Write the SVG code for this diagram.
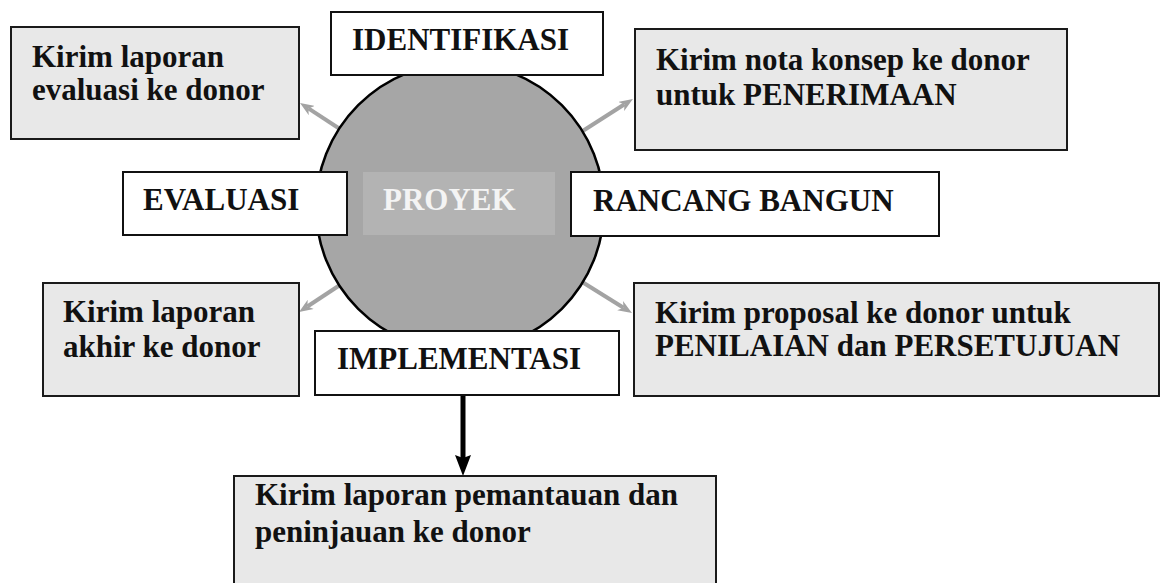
<svg xmlns="http://www.w3.org/2000/svg" width="1162" height="583" viewBox="0 0 1162 583">
  <style>
    .lbl { font-family: "Liberation Serif", "Times New Roman", serif; font-weight: bold; font-size: 31px; fill: #111; }
    .note { fill: #e8e8e8; stroke: #1a1a1a; stroke-width: 2; }
    .phase { fill: #ffffff; stroke: #111; stroke-width: 2; }
    .garrow { stroke: #a3a3a3; stroke-width: 4; fill: none; marker-end: url(#gh); }
    .barrow { stroke: #000; stroke-width: 5; fill: none; marker-end: url(#bh); }
  </style>
  <defs>
    <marker id="gh" markerUnits="userSpaceOnUse" viewBox="0 0 14 11" markerWidth="14" markerHeight="11" refX="4" refY="5.5" orient="auto">
      <path d="M0,0 L14,5.5 L0,11 L4,5.5 z" fill="#a3a3a3"/>
    </marker>
    <marker id="bh" markerUnits="userSpaceOnUse" viewBox="0 0 21 16" markerWidth="21" markerHeight="16" refX="3" refY="8" orient="auto">
      <path d="M0,0 L21,8 L0,16 L3,8 z" fill="#000"/>
    </marker>
  </defs>

  <g id="connectors">
    <line class="garrow" x1="343" y1="131" x2="308.4" y2="108.4"/>
    <line class="garrow" x1="578" y1="134" x2="624.5" y2="104.3"/>
    <line class="garrow" x1="343" y1="283" x2="307.4" y2="306.5"/>
    <line class="garrow" x1="579" y1="280" x2="623.5" y2="307.8"/>
    <line class="barrow" x1="463" y1="395" x2="463" y2="458"/>
  </g>

  <g id="project">
    <circle cx="460" cy="207" r="144" fill="#a6a6a6" stroke="#000" stroke-width="2.5"/>
    <rect x="363" y="172" width="192" height="63" fill="#b3b3b3"/>
    <text class="lbl" x="383" y="210" style="fill:#f4f4f4">PROYEK</text>
  </g>

  <g id="identifikasi">
    <rect class="phase" x="331" y="12" width="272" height="63"/>
    <text class="lbl" x="352" y="50">IDENTIFIKASI</text>
  </g>

  <g id="evaluasi">
    <rect class="phase" x="123" y="172" width="224" height="63"/>
    <text class="lbl" x="143" y="210">EVALUASI</text>
  </g>

  <g id="rancang-bangun">
    <rect class="phase" x="571" y="172" width="368" height="64"/>
    <text class="lbl" x="593" y="211">RANCANG BANGUN</text>
  </g>

  <g id="implementasi">
    <rect class="phase" x="315" y="331" width="304" height="64"/>
    <text class="lbl" x="337" y="369">IMPLEMENTASI</text>
  </g>

  <g id="note-evaluasi">
    <rect class="note" x="11" y="27" width="288" height="112"/>
    <text class="lbl" x="32" y="67">Kirim laporan</text>
    <text class="lbl" x="32" y="100">evaluasi ke donor</text>
  </g>

  <g id="note-penerimaan">
    <rect class="note" x="635" y="29" width="432" height="121"/>
    <text class="lbl" x="656" y="70">Kirim nota konsep ke donor</text>
    <text class="lbl" x="656" y="105">untuk PENERIMAAN</text>
  </g>

  <g id="note-akhir">
    <rect class="note" x="43" y="283" width="256" height="113"/>
    <text class="lbl" x="63" y="322">Kirim laporan</text>
    <text class="lbl" x="63" y="357">akhir ke donor</text>
  </g>

  <g id="note-proposal">
    <rect class="note" x="634" y="283" width="525" height="113"/>
    <text class="lbl" x="655" y="323">Kirim proposal ke donor untuk</text>
    <text class="lbl" x="655" y="356">PENILAIAN dan PERSETUJUAN</text>
  </g>

  <g id="note-pemantauan">
    <rect class="note" x="234" y="476" width="482" height="120"/>
    <text class="lbl" x="255" y="505">Kirim laporan pemantauan dan</text>
    <text class="lbl" x="255" y="542">peninjauan ke donor</text>
  </g>
</svg>
